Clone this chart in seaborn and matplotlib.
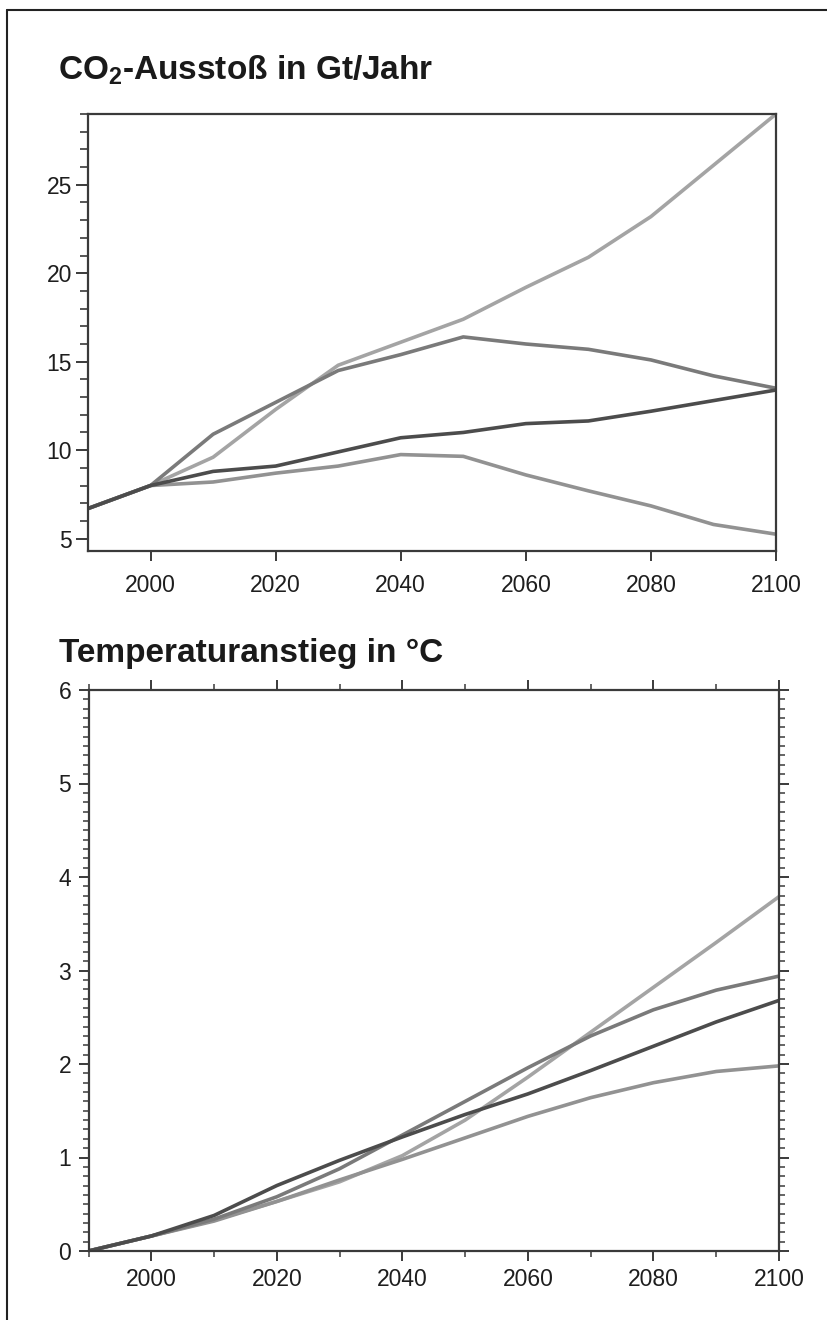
import matplotlib
matplotlib.use("Agg")
import matplotlib.pyplot as plt
from matplotlib.lines import Line2D
from matplotlib.ticker import MultipleLocator, FixedLocator
import numpy as np
import pandas as pd
import seaborn as sns

# ---------------- data ----------------
years = [1990, 2000, 2010, 2020, 2030, 2040, 2050, 2060, 2070, 2080, 2090, 2100]

co2_A = [6.7, 8.0, 9.6, 12.3, 14.8, 16.1, 17.4, 19.2, 20.9, 23.2, 26.1, 29.0]
co2_B = [6.7, 8.0, 10.9, 12.7, 14.5, 15.4, 16.4, 16.0, 15.7, 15.1, 14.2, 13.5]
co2_C = [6.7, 8.0, 8.8, 9.1, 9.9, 10.7, 11.0, 11.5, 11.65, 12.2, 12.8, 13.4]
co2_D = [6.7, 8.0, 8.2, 8.7, 9.1, 9.75, 9.65, 8.6, 7.7, 6.85, 5.8, 5.25]

temp_A = [0.0, 0.16, 0.33, 0.53, 0.74, 1.02, 1.40, 1.86, 2.34, 2.82, 3.30, 3.79]
temp_B = [0.0, 0.16, 0.34, 0.58, 0.88, 1.24, 1.60, 1.96, 2.30, 2.58, 2.79, 2.94]
temp_C = [0.0, 0.16, 0.38, 0.70, 0.97, 1.22, 1.46, 1.68, 1.93, 2.19, 2.45, 2.68]
temp_D = [0.0, 0.16, 0.32, 0.53, 0.76, 0.98, 1.21, 1.44, 1.64, 1.80, 1.92, 1.98]

series_names = ["A", "D", "B", "C"]
colors = {"A": "#a4a4a4", "B": "#7a7a7a", "C": "#4c4c4c", "D": "#929292"}

co2_df = pd.DataFrame({
    "year": years * 4,
    "value": co2_A + co2_B + co2_C + co2_D,
    "series": ["A"] * 12 + ["B"] * 12 + ["C"] * 12 + ["D"] * 12,
})
temp_df = pd.DataFrame({
    "year": years * 4,
    "value": temp_A + temp_B + temp_C + temp_D,
    "series": ["A"] * 12 + ["B"] * 12 + ["C"] * 12 + ["D"] * 12,
})

# ---------------- style ----------------
sns.set_style("ticks")
plt.rcParams["font.family"] = ["Liberation Sans", "DejaVu Sans"]
plt.rcParams["mathtext.fontset"] = "custom"
plt.rcParams["mathtext.rm"] = "Liberation Sans:bold"
plt.rcParams["mathtext.it"] = "Liberation Sans:bold"
plt.rcParams["mathtext.bf"] = "Liberation Sans:bold"

spine_color = "#3a3a3a"
label_color = "#1e1e1e"

fig = plt.figure(figsize=(8.27, 13.2), dpi=100)

ax1 = fig.add_axes([88 / 827, 1 - 551 / 1320, 688 / 827, 437 / 1320])
ax2 = fig.add_axes([88.5 / 827, 1 - 1251 / 1320, 690.5 / 827, 561 / 1320])

for ax, df in ((ax1, co2_df), (ax2, temp_df)):
    sns.lineplot(data=df, x="year", y="value", hue="series", hue_order=series_names,
                 palette=colors, linewidth=2.6, legend=False, ax=ax, sort=True)
    ax.set_xlabel("")
    ax.set_ylabel("")
    for s in ax.spines.values():
        s.set_visible(True)
        s.set_color(spine_color)
        s.set_linewidth(1.6)

# top panel
ax1.set_xlim(1990, 2100)
ax1.set_ylim(4.3, 29.0)
ax1.xaxis.set_major_locator(FixedLocator([2000, 2020, 2040, 2060, 2080, 2100]))
ax1.yaxis.set_major_locator(FixedLocator([5, 10, 15, 20, 25]))
ax1.yaxis.set_minor_locator(MultipleLocator(1))
ax1.tick_params(axis="y", which="major", direction="out", length=8.5, width=1.4,
                color=spine_color, labelsize=16.5, labelcolor=label_color, pad=3)
ax1.tick_params(axis="y", which="minor", direction="out", length=5.5, width=1.2,
                color=spine_color)
ax1.tick_params(axis="x", which="major", direction="out", length=7.5, width=1.4,
                color=spine_color, labelsize=16.5, labelcolor=label_color, pad=9)

# bottom panel
ax2.set_xlim(1990, 2100)
ax2.set_ylim(0, 6)
ax2.xaxis.set_major_locator(FixedLocator([2000, 2020, 2040, 2060, 2080, 2100]))
ax2.xaxis.set_minor_locator(MultipleLocator(10))
ax2.yaxis.set_major_locator(FixedLocator([0, 1, 2, 3, 4, 5, 6]))
ax2.yaxis.set_minor_locator(MultipleLocator(0.1))
ax2.tick_params(which="both", top=True, right=True, labeltop=False, labelright=False,
                direction="out", color=spine_color)
ax2.tick_params(which="major", length=7.5, width=1.4, labelsize=16.5,
                labelcolor=label_color, pad=5)
ax2.tick_params(which="minor", length=4.3, width=1.1)

for ax in (ax1, ax2):
    for lab in ax.get_xticklabels() + ax.get_yticklabels():
        lab.set_fontfamily(["Liberation Sans", "DejaVu Sans"])

# titles
fig.text(58 / 827, 1 - 80 / 1320, "CO$_2$-Ausstoß in Gt/Jahr", fontsize=24,
         fontweight="bold", color="#1a1a1a", ha="left", va="baseline")
fig.text(59 / 827, 1 - 662 / 1320, "Temperaturanstieg in °C", fontsize=24,
         fontweight="bold", color="#1a1a1a", ha="left", va="baseline")

# outer frame (left and top edges of the page box)
fig.add_artist(Line2D([7 / 827, 7 / 827], [0, 1 - 10 / 1320], transform=fig.transFigure,
                      color="#222222", linewidth=1.5))
fig.add_artist(Line2D([7 / 827, 1], [1 - 10 / 1320, 1 - 10 / 1320], transform=fig.transFigure,
                      color="#222222", linewidth=1.5))

fig.savefig("out.png", dpi=100, facecolor="white")
